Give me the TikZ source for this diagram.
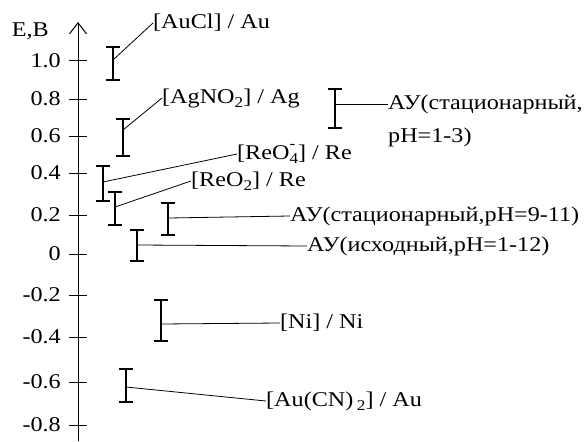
\documentclass[tikz,border=0pt]{standalone}
\usepackage{fontspec}
\setmainfont{Liberation Serif}[FakeStretch=1.15]
\usetikzlibrary{arrows.meta}

\newcommand{\sub}[1]{\raisebox{-0.45ex}{\fontsize{15}{15}\selectfont #1}}
\newcommand{\subsup}[2]{\rlap{\raisebox{1.1ex}{\fontsize{15}{15}\selectfont #2}}\raisebox{-0.45ex}{\fontsize{15}{15}\selectfont #1}}
% name, x, top, bottom, joint
\newcommand{\ebar}[5]{%
  \draw[bar] (#2-7,#3) -- (#2+7,#3) (#2,#3) -- (#2,#4) (#2-7,#4) -- (#2+7,#4);
  \coordinate (#1) at (#2,#5);}

\begin{document}
\begin{tikzpicture}[x=1pt,y=-1pt,
  lbl/.style={anchor=west,inner sep=0pt,font=\fontsize{21}{24}\selectfont},
  bar/.style={line width=2.4pt},
  link/.style={line width=0.8pt}]
\useasboundingbox (0,0) rectangle (585,441);
% axis
\coordinate (bot) at (78,441);
\coordinate (top) at (78,22);
\draw [line width=1pt,-{Straight Barb[length=11pt,width=17pt]}] (bot) -- (top);
\node [lbl,anchor=east] (ylab) at (49,31) {E,B};
\foreach \v/\y in {1.0/61,0.8/99,0.6/136,0.4/173,0.2/215,0/254,-0.2/295,-0.4/337,-0.6/382,-0.8/425}
  {\draw [line width=1pt] (69,\y) -- (87,\y);
   \node [lbl,anchor=east] (tick\y) at (61,\y) {\v};}

\ebar{auc}{113}{47}{80}{60}
\ebar{agn}{123}{119}{156}{130}
\ebar{reo4}{103}{166}{201}{182}
\ebar{reo2}{115}{192}{225}{207}
\ebar{st911}{168}{203}{235}{218}
\ebar{ish}{137}{230}{261}{245}
\ebar{st13}{335}{89}{128}{104}
\ebar{ni}{161}{300}{341}{324}
\ebar{aucn}{126}{369}{402}{387}

\node [lbl] (laucl)  at (153,23)  {[AuCl] / Au};
\node [lbl] (lagno)  at (162,98)  {[AgNO\sub{2}] / Ag};
\node [lbl] (lreo4)  at (237,154) {[ReO\subsup{4}{-}] / Re};
\node [lbl] (lreo2)  at (191,181) {[ReO\sub{2}] / Re};
\node [lbl] (lst911) at (290,216) {АУ(стационарный,pH=9-11)};
\node [lbl] (lish)   at (307,246) {АУ(исходный,pH=1-12)};
\node [lbl,anchor=north west,align=left,font=\fontsize{21}{33}\selectfont] (lst13) at (388,95) {АУ(стационарный,\\pH=1-3)};
\node [lbl] (lni)    at (280,323) {[Ni] / Ni};
\node [lbl] (laucn)  at (266,401) {[Au(CN)\,\sub{2}] / Au};

\draw [link] (auc) -- (laucl.west);
\draw [link] (agn) -- (lagno.west);
\draw [link] (reo4) -- (lreo4.west);
\draw [link] (reo2) -- (lreo2.west);
\draw [link] (st911) -- (lst911.west);
\draw [link] (ish) -- (lish.west);
\draw [link] (st13) -- (st13 -| lst13.west);
\draw [link] (ni) -- (lni.west);
\draw [link] (aucn) -- (laucn.west);
\end{tikzpicture}
\end{document}
